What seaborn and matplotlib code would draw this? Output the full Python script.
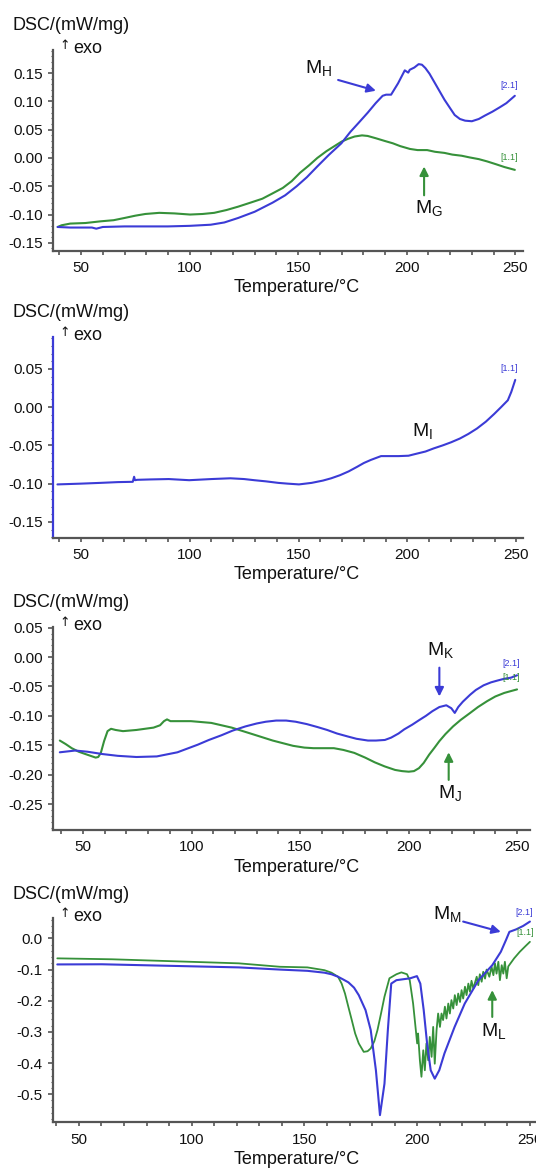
import matplotlib
matplotlib.use("Agg")
import matplotlib.pyplot as plt
from matplotlib.ticker import MultipleLocator, FormatStrFormatter
import pandas as pd
import seaborn as sns

# ---------------- data (temperature in degC, DSC in mW/mg) ----------------
# Panel 1: M_H (blue, segment 2.1) and M_G (green, segment 1.1)
t1_blue = [39.2, 45, 55, 57, 60, 70, 80, 90, 100, 109.7, 116, 122.4, 130, 138.2, 144,
           149.3, 154, 158.8, 164, 169.9, 174, 177.8, 182, 185.7, 188.9, 190.5, 192.8,
           196.0, 199.1, 200.7, 201.4, 203.5, 205.5, 207, 208.6, 210.5, 212.6, 215,
           217.4, 220, 222.1, 224.5, 226.9, 230.0, 233.2, 236, 239.5, 243, 245.9, 249.8]
dsc1_blue = [-0.122, -0.123, -0.123, -0.125, -0.122, -0.121, -0.121, -0.121, -0.120, -0.118,
             -0.114, -0.106, -0.095, -0.079, -0.066, -0.050, -0.034, -0.015, 0.005, 0.026,
             0.046, 0.062, 0.080, 0.097, 0.110, 0.112, 0.112, 0.132, 0.155, 0.151, 0.156,
             0.160, 0.166, 0.165, 0.159, 0.149, 0.135, 0.119, 0.103, 0.088, 0.076, 0.069,
             0.066, 0.065, 0.069, 0.075, 0.082, 0.090, 0.097, 0.110]
t1_green = [39.2, 41, 45, 52, 59, 65, 70.1, 75, 79.6, 86, 93, 100.2, 106, 111.3, 117, 122.4,
            128, 133.5, 138, 142.9, 147, 150.9, 155, 158.8, 163, 166.7, 170, 173, 176, 179.4,
            182, 185.7, 190, 193.6, 197, 201.5, 205, 209.4, 213, 217.4, 221, 225.3, 229,
            233.2, 237, 241.1, 245, 249.8]
dsc1_green = [-0.122, -0.119, -0.116, -0.115, -0.112, -0.110, -0.106, -0.102, -0.099, -0.097,
              -0.098, -0.100, -0.099, -0.097, -0.092, -0.086, -0.079, -0.072, -0.063, -0.053,
              -0.041, -0.026, -0.013, 0.000, 0.012, 0.021, 0.029, 0.034, 0.038, 0.040, 0.039,
              0.035, 0.030, 0.026, 0.021, 0.016, 0.014, 0.014, 0.011, 0.009, 0.006, 0.004,
              0.001, -0.002, -0.006, -0.011, -0.016, -0.021]

# Panel 2: M_I (blue, segment 1.1)
t2_blue = [39.3, 50, 59, 67, 73.9, 74.5, 74.9, 76, 82, 90.4, 99.8, 110, 118.7, 125, 129.7,
           135, 140.7, 145, 150.2, 156, 161.2, 165, 169, 173, 176.9, 180, 183.2, 186, 187.9,
           190, 192.6, 196, 200.5, 204, 208.3, 212, 216.2, 220, 224.1, 228, 231.9, 236,
           239.8, 243, 246.1, 247.7, 249.5]
dsc2_blue = [-0.101, -0.100, -0.099, -0.098, -0.0976, -0.091, -0.0955, -0.095, -0.0945, -0.094,
             -0.0955, -0.094, -0.093, -0.094, -0.0955, -0.097, -0.099, -0.100, -0.101, -0.099,
             -0.096, -0.093, -0.089, -0.084, -0.078, -0.073, -0.069, -0.066, -0.064, -0.064,
             -0.064, -0.064, -0.0635, -0.061, -0.058, -0.054, -0.050, -0.046, -0.041, -0.035,
             -0.028, -0.019, -0.009, 0.000, 0.009, 0.020, 0.0356]

# Panel 3: M_K (blue, segment 2.1) and M_J (green, segment 1.1)
t3_blue = [39.3, 46.4, 52, 59, 66, 74.6, 84, 93.5, 102.9, 108, 113.8, 119, 124.8, 130, 134.2,
           139, 143.6, 148, 153.1, 158, 162.5, 167, 171.9, 176, 181.3, 185, 189.1, 192,
           195.4, 198, 201.7, 205, 208, 211, 214.2, 217.4, 219.7, 221.3, 222.9, 225, 228.4,
           231, 234.6, 238, 240.9, 244, 247.2, 250]
dsc3_blue = [-0.162, -0.159, -0.161, -0.165, -0.168, -0.170, -0.169, -0.162, -0.149, -0.141,
             -0.133, -0.125, -0.118, -0.113, -0.110, -0.108, -0.108, -0.110, -0.114, -0.119,
             -0.124, -0.130, -0.135, -0.139, -0.142, -0.142, -0.141, -0.137, -0.130, -0.123,
             -0.115, -0.107, -0.100, -0.092, -0.085, -0.082, -0.087, -0.095, -0.085, -0.076,
             -0.064, -0.056, -0.048, -0.043, -0.040, -0.037, -0.035, -0.031]
t3_green = [39.3, 42, 44.8, 48, 51.1, 55.8, 57, 58.2, 59.7, 61.3, 62.9, 65, 68.4, 74.6, 82.5,
            85.5, 87.3, 88.7, 90.3, 95, 99.7, 109.1, 118.5, 128, 137.4, 146.8, 152, 156.2,
            161, 165.6, 170, 175, 180, 184.4, 189, 193.8, 197, 200.1, 202.5, 204.8, 207,
            209.5, 212, 214.2, 217, 220.5, 224, 228.4, 232, 236.2, 240, 244.1, 247, 250]
dsc3_green = [-0.142, -0.148, -0.155, -0.161, -0.165, -0.171, -0.170, -0.163, -0.143, -0.126,
              -0.122, -0.124, -0.126, -0.124, -0.120, -0.116, -0.109, -0.106, -0.109, -0.109,
              -0.109, -0.112, -0.120, -0.131, -0.142, -0.151, -0.154, -0.155, -0.155, -0.155,
              -0.158, -0.163, -0.171, -0.179, -0.186, -0.192, -0.194, -0.195, -0.194, -0.189,
              -0.180, -0.166, -0.154, -0.143, -0.131, -0.118, -0.107, -0.095, -0.085, -0.075,
              -0.067, -0.061, -0.058, -0.055]

# Panel 4: M_M (blue, segment 2.1) and M_L (green, segment 1.1)
t4_blue = [40.4, 60.2, 90.5, 120.9, 139.1, 151.3, 158.9, 162, 164.9, 167, 169.5, 172, 174.1,
           177.1, 179.4, 181.7, 183.5, 185.5, 187, 188.5, 190.8, 196.9, 199.9, 201.4, 202.9,
           204.4, 206, 207.8, 209.8, 212.1, 216.6, 221.1, 227.2, 233.3, 237.1, 239.4, 240.9,
           243.9, 247, 250]
dsc4_blue = [-0.0835, -0.083, -0.088, -0.093, -0.100, -0.104, -0.110, -0.115, -0.123, -0.131,
             -0.141, -0.158, -0.182, -0.230, -0.294, -0.423, -0.567, -0.466, -0.294, -0.145,
             -0.134, -0.128, -0.121, -0.145, -0.230, -0.337, -0.423, -0.450, -0.423, -0.369,
             -0.284, -0.209, -0.134, -0.086, -0.043, -0.005, 0.021, 0.029, 0.040, 0.054]
t4_green_start = [40.4, 64.7, 90.5, 120.9, 139.1, 151.3, 158.9, 162, 164.9, 166.5, 168, 169.5,
                  171, 172.5, 174.1, 176.3, 178, 179.4, 181, 182.4, 184, 185.5, 187.7, 190.8,
                  193.0, 195.5]
dsc4_green_start = [-0.064, -0.067, -0.073, -0.080, -0.091, -0.093, -0.102, -0.110, -0.123,
                    -0.145, -0.177, -0.220, -0.262, -0.305, -0.337, -0.364, -0.362, -0.353,
                    -0.330, -0.294, -0.240, -0.187, -0.128, -0.115, -0.109, -0.115]
# noisy melting region of the green trace
t4_green_noisy = [196.7, 198.2, 199.4, 200.0, 200.4, 201.2, 201.9, 202.7, 203.4, 204.1, 204.9,
                  205.6, 206.4, 207.1, 207.8, 208.6, 209.3, 210.1, 210.8, 211.5, 212.3, 213.0,
                  213.8, 214.5, 215.2, 216.0, 216.7, 217.5, 218.2, 219.0, 219.7, 220.4, 221.2,
                  221.9, 222.7, 223.4, 224.1, 224.9, 226.4, 227.1, 227.8, 228.6, 229.3, 230.1,
                  230.8, 232.0, 233.0, 233.8, 234.5, 235.2, 236.0, 236.7, 237.5, 238.2, 238.9,
                  239.7, 240.4, 241.2]
dsc4_green_noisy = [-0.134, -0.209, -0.294, -0.337, -0.305, -0.391, -0.444, -0.359, -0.423,
                    -0.337, -0.391, -0.316, -0.380, -0.284, -0.402, -0.294, -0.241, -0.284,
                    -0.241, -0.262, -0.219, -0.257, -0.209, -0.241, -0.198, -0.225, -0.182,
                    -0.214, -0.177, -0.204, -0.166, -0.193, -0.155, -0.182, -0.145, -0.171,
                    -0.136, -0.161, -0.123, -0.150, -0.115, -0.139, -0.107, -0.129, -0.100,
                    -0.123, -0.091, -0.118, -0.080, -0.113, -0.075, -0.134, -0.086, -0.113,
                    -0.075, -0.128, -0.090, -0.082]
t4_green_end = [243.0, 245.5, 248.0, 250.0]
dsc4_green_end = [-0.064, -0.043, -0.025, -0.011]

x_ticks = [50, 100, 150, 200, 250]

# ---------------- style ----------------
sns.set_theme(style="ticks")
plt.rcParams["font.family"] = ["Liberation Sans", "DejaVu Sans"]
plt.rcParams["mathtext.fontset"] = "custom"
plt.rcParams["mathtext.rm"] = "Liberation Sans"
plt.rcParams["mathtext.it"] = "Liberation Sans:italic"
plt.rcParams["axes.unicode_minus"] = False

BLUE = "#3b3bd6"
GREEN = "#36913a"
SPINE = "#555555"

W, H = 536, 1168
fig = plt.figure(figsize=(W / 100, H / 100), dpi=100)
fig.patch.set_facecolor("white")


def box(left, right, top, bottom):
    return [left / W, 1 - bottom / H, (right - left) / W, (bottom - top) / H]


def fx(px):
    return px / W


def fy(py):
    return 1 - py / H


def draw(ax, t, v, color, lw=1.5):
    df = pd.DataFrame({"Temperature": t, "DSC": v})
    sns.lineplot(data=df, x="Temperature", y="DSC", ax=ax, color=color, lw=lw,
                 sort=False, estimator=None)


def style_axes(ax, xlim, ylim, ymajor, yminor, yfmt, top_px, bottom_px, left_color=SPINE):
    ax.set_xlim(*xlim)
    ax.set_ylim(*ylim)
    ax.set_xlabel("")
    ax.set_ylabel("")
    ax.set_facecolor("white")
    for s in ("top", "right"):
        ax.spines[s].set_visible(False)
    ax.spines["bottom"].set_color(SPINE)
    ax.spines["bottom"].set_linewidth(1.6)
    ax.spines["left"].set_color(left_color)
    ax.spines["left"].set_linewidth(1.6)
    ax.set_xticks(x_ticks)
    ax.xaxis.set_minor_locator(MultipleLocator(10))
    ax.yaxis.set_major_locator(MultipleLocator(ymajor))
    ax.yaxis.set_minor_locator(MultipleLocator(yminor))
    ax.yaxis.set_major_formatter(FormatStrFormatter(yfmt))
    ax.tick_params(axis="x", which="both", direction="out", length=3, width=1.2,
                   color=SPINE, labelsize=11, pad=4.5, labelcolor="#111111")
    ax.tick_params(axis="y", which="major", direction="out", length=3.5, width=1.2,
                   color=SPINE, labelsize=11, pad=4, labelcolor="#111111")
    ax.tick_params(axis="y", which="minor", direction="out", length=1.8, width=0.8,
                   color=SPINE)
    # axis titles placed in figure pixels
    fig.text(fx(12.7), fy(top_px - 24), "DSC/(mW/mg)", fontsize=13, ha="left",
             va="center", color="#111111")
    fig.text(fx(64.5), fy(top_px - 4.5), "\u2191", fontsize=9, ha="center", va="center",
             color="#111111", family=["DejaVu Sans"])
    fig.text(fx(73), fy(top_px - 1.5), "exo", fontsize=13, ha="left", va="center",
             color="#111111")
    fig.text(fx(296.5), fy(bottom_px + 37), "Temperature/\u00b0C", fontsize=13,
             ha="center", va="center", color="#111111")


def arrow(ax, tail, head, color):
    ax.annotate("", xy=head, xytext=tail,
                arrowprops=dict(arrowstyle="-|>", color=color, lw=1.5,
                                mutation_scale=13, shrinkA=0, shrinkB=0))


def mlabel(ax, x, y, sub):
    ax.text(x, y, "M$_{\\rm " + sub + "}$", fontsize=14, ha="left", va="baseline",
            color="#111111")


def seg(ax, x, y, text, color):
    ax.text(x, y, text, fontsize=6.5, ha="center", va="center", color=color)


# ---------------- panel 1 ----------------
ax1 = fig.add_axes(box(53.3, 523.3, 50, 250.5))
draw(ax1, t1_green, dsc1_green, GREEN)
draw(ax1, t1_blue, dsc1_blue, BLUE)
style_axes(ax1, (37.2, 253.7), (-0.1636, 0.191), 0.05, 0.01, "%.2f", 50, 250.5)
mlabel(ax1, 153, 0.151, "H")
arrow(ax1, (168.4, 0.138), (185.8, 0.119), BLUE)
mlabel(ax1, 203.6, -0.097, "G")
arrow(ax1, (208, -0.066), (208, -0.015), GREEN)
seg(ax1, 247.1, 0.129, "[2.1]", BLUE)
seg(ax1, 247.1, 0.001, "[1.1]", GREEN)

# ---------------- panel 2 ----------------
ax2 = fig.add_axes(box(53.3, 523.3, 336.6, 537.5))
draw(ax2, t2_blue, dsc2_blue, BLUE)
style_axes(ax2, (37.4, 253.2), (-0.1704, 0.0922), 0.05, 0.01, "%.2f", 336.6, 537.5,
           left_color=BLUE)
mlabel(ax2, 202, -0.0373, "I")
seg(ax2, 246.5, 0.051, "[1.1]", BLUE)

# ---------------- panel 3 ----------------
ax3 = fig.add_axes(box(53.3, 530.5, 626.7, 830))
draw(ax3, t3_green, dsc3_green, GREEN)
draw(ax3, t3_blue, dsc3_blue, BLUE)
style_axes(ax3, (36.3, 256.2), (-0.2942, 0.0517), 0.05, 0.01, "%.2f", 626.7, 830)
mlabel(ax3, 208.7, 0.0033, "K")
arrow(ax3, (214.2, -0.018), (214.2, -0.067), BLUE)
mlabel(ax3, 213.5, -0.240, "J")
arrow(ax3, (218.5, -0.209), (218.5, -0.162), GREEN)
seg(ax3, 247.2, -0.011, "[2.1]", BLUE)
seg(ax3, 247.2, -0.035, "[1.1]", GREEN)

# ---------------- panel 4 ----------------
ax4 = fig.add_axes(box(53, 536, 918.3, 1122.3))
draw(ax4, t4_green_start + t4_green_noisy + t4_green_end,
     dsc4_green_start + dsc4_green_noisy + dsc4_green_end, GREEN, lw=1.3)
draw(ax4, t4_blue, dsc4_blue, BLUE)
style_axes(ax4, (38.5, 252.7), (-0.590, 0.0645), 0.1, 0.02, "%.1f", 918.3, 1122.3)
mlabel(ax4, 207.2, 0.061, "M")
arrow(ax4, (220.4, 0.054), (237.1, 0.021), BLUE)
mlabel(ax4, 228.4, -0.314, "L")
arrow(ax4, (233.3, -0.252), (233.3, -0.166), GREEN)
seg(ax4, 247.5, 0.082, "[2.1]", BLUE)
seg(ax4, 247.8, 0.018, "[1.1]", GREEN)

fig.savefig("out.png", dpi=100, facecolor="white")
